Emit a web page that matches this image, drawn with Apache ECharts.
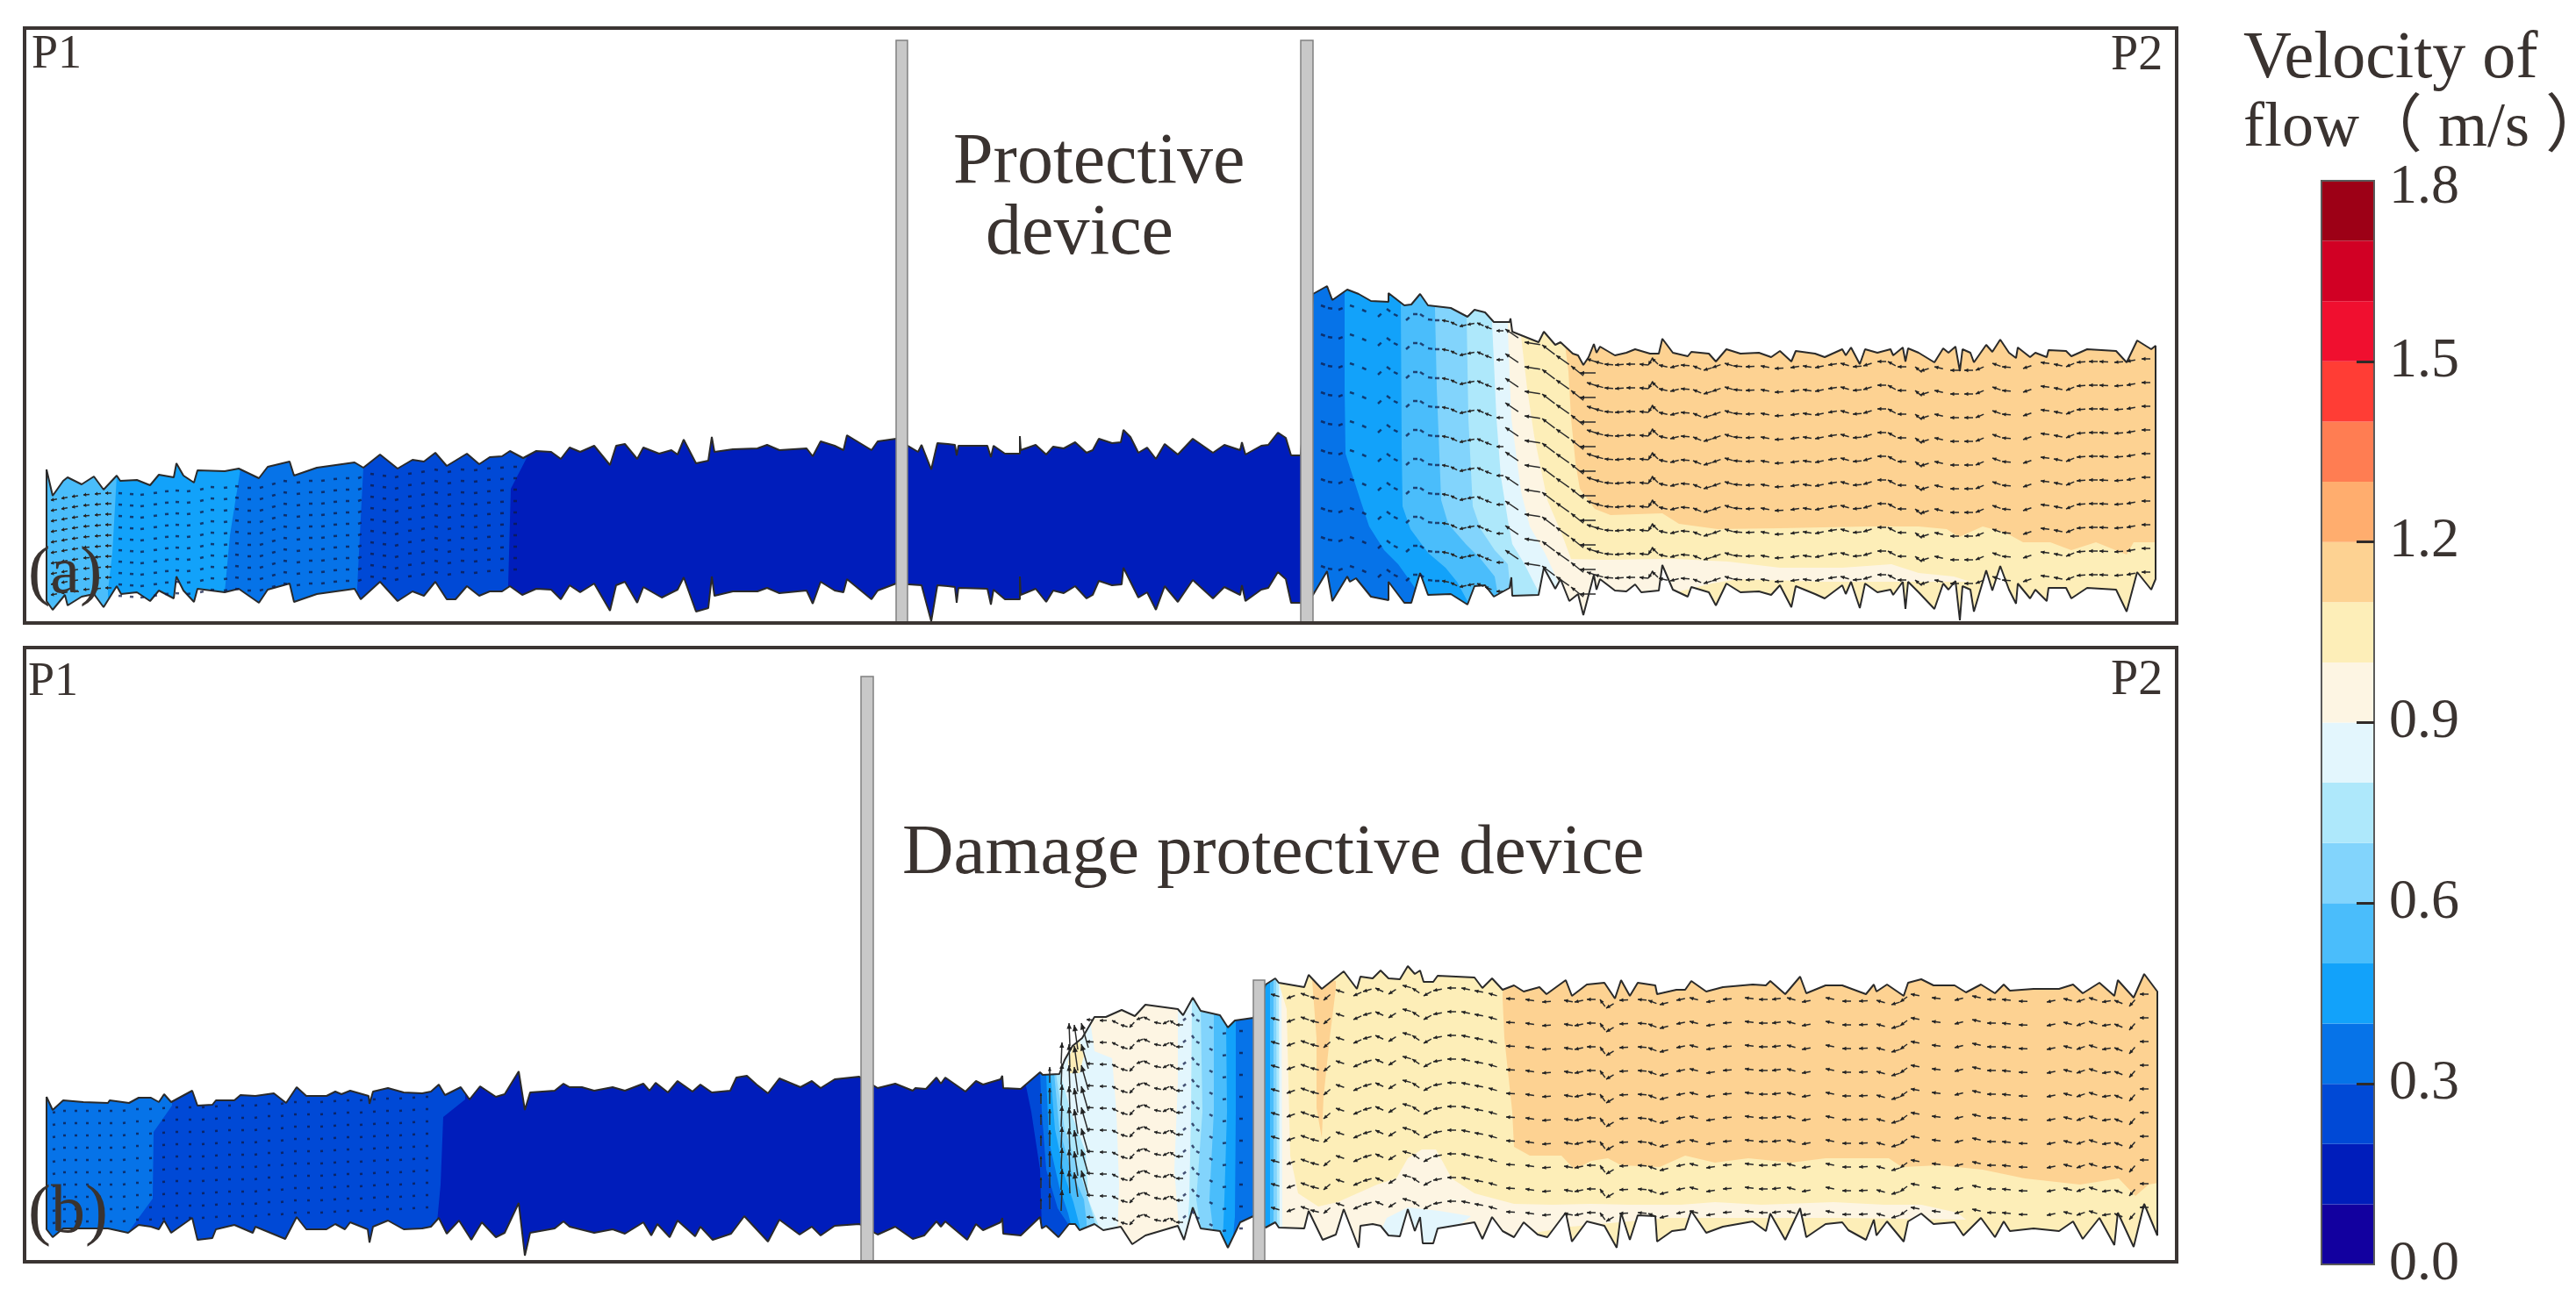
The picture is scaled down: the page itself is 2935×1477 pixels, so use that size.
<!DOCTYPE html>
<html>
<head>
<meta charset="utf-8">
<title>Velocity of flow</title>
<script src="https://cdn.jsdelivr.net/npm/echarts@6/dist/echarts.min.js"></script>
<style>
    html, body { margin: 0; padding: 0; background: #fff; }
    #chart { width: 2935px; height: 1477px; }
</style>
</head>
<body>
<div id="chart"></div>
<script>
// colour scale, one colour per 0.1 m/s, from 0.0 upwards
const levelColors = ['#12009f', '#001dbb', '#0049d6', '#0673e8', '#12a2fa', '#4abdfb', '#82d4fc', '#aee8fb', '#e3f6fd',
    '#fdf5e3', '#fdeeb8', '#fdd292', '#ffad6e', '#ff7d52', '#ff3d35', '#f00f2f', '#d10024', '#9d0016'];
const levelStep = 0.1;
const scaleTicks = [0.3, 0.6, 0.9, 1.2, 1.5];
const scaleLabels = [0, 0.3, 0.6, 0.9, 1.2, 1.5];

// water surface and bed of panel (a), [distance, height above panel floor]
const topA = [[53,175],[60,145],[72,162],[77,166],[93,158],[107,167],[118,152],[133,168],[137,162],[156,163],[171,157],[181,169],[198,166],[201,182],[209,168],[221,160],[225,174],[256,173],[272,176],[295,165],[305,178],[330,184],[335,168],[361,177],[404,183],[414,177],[433,192],[453,176],[470,186],[483,184],[496,194],[509,179],[532,193],[546,181],[558,189],[572,190],[581,196],[596,188],[611,196],[628,195],[639,187],[649,200],[661,195],[677,202],[695,180],[702,202],[712,204],[726,187],[733,200],[751,193],[765,197],[772,192],[779,209],[793,182],[807,185],[811,212],[814,195],[835,198],[863,199],[874,203],[888,197],[919,199],[926,190],[935,207],[951,202],[961,197],[965,214],[993,197],[1000,207],[1021,210],[1046,195],[1050,203],[1061,175],[1068,205],[1080,204],[1088,203],[1090,191],[1092,202],[1125,202],[1129,189],[1132,202],[1145,193],[1162,193],[1162,213],[1163,197],[1180,203],[1192,192],[1200,201],[1212,199],[1225,206],[1238,194],[1245,197],[1252,210],[1267,205],[1277,206],[1280,220],[1288,212],[1297,194],[1307,200],[1317,187],[1327,204],[1342,192],[1359,210],[1382,194],[1395,203],[1413,197],[1415,206],[1419,192],[1437,202],[1445,203],[1456,217],[1465,211],[1471,191],[1482,191],
    [1496,375],[1512,384],[1518,368],[1535,380],[1548,375],[1562,367],[1582,366],[1582,376],[1600,362],[1608,363],[1618,375],[1627,362],[1653,359],[1672,349],[1680,357],[1692,354],[1702,343],[1720,343],[1721,347],[1723,332],[1753,320],[1759,332],[1772,317],[1778,320],[1792,307],[1798,305],[1804,294],[1810,303],[1816,318],[1819,308],[1823,315],[1840,305],[1853,308],[1863,312],[1880,307],[1890,307],[1894,324],[1906,308],[1923,304],[1927,309],[1947,307],[1955,298],[1967,312],[1983,307],[2004,308],[2018,303],[2028,310],[2041,298],[2046,310],[2068,307],[2079,303],[2099,312],[2103,305],[2109,314],[2119,295],[2125,312],[2139,308],[2154,312],[2157,305],[2168,314],[2171,298],[2174,313],[2186,308],[2204,297],[2214,313],[2220,308],[2228,315],[2233,287],[2236,312],[2245,308],[2249,297],[2263,317],[2270,309],[2279,323],[2289,308],[2297,302],[2299,314],[2313,303],[2319,308],[2332,303],[2334,311],[2354,310],[2360,304],[2378,312],[2411,310],[2423,297],[2435,322],[2451,312],[2456,316]];
const botA = [[53,25],[60,15],[74,32],[77,20],[93,30],[107,33],[118,18],[133,42],[138,33],[156,35],[171,25],[181,37],[198,28],[201,53],[209,37],[221,24],[225,39],[256,35],[272,39],[295,23],[305,38],[330,45],[335,24],[361,33],[404,39],[411,27],[433,47],[453,25],[470,36],[483,31],[496,47],[509,27],[519,27],[532,42],[546,31],[558,36],[572,36],[581,42],[595,32],[611,39],[628,38],[639,27],[649,43],[661,35],[677,45],[695,14],[702,43],[712,47],[726,23],[733,41],[754,29],[772,38],[779,52],[793,13],[807,17],[811,53],[814,31],[835,36],[863,36],[874,40],[888,34],[919,37],[926,22],[935,47],[951,37],[961,35],[965,50],[993,27],[1000,37],[1021,45],[1050,43],[1061,2],[1068,43],[1080,42],[1088,41],[1090,23],[1092,40],[1125,39],[1129,21],[1132,38],[1145,27],[1162,27],[1162,53],[1163,32],[1180,39],[1192,24],[1200,37],[1212,34],[1225,42],[1238,28],[1245,32],[1252,48],[1267,43],[1278,44],[1280,63],[1297,29],[1307,35],[1317,15],[1327,42],[1342,24],[1359,49],[1382,28],[1395,41],[1413,32],[1415,43],[1419,25],[1437,38],[1445,40],[1456,58],[1465,50],[1471,23],[1482,23],
    [1496,32],[1512,59],[1518,25],[1535,53],[1538,47],[1545,51],[1562,30],[1582,26],[1582,47],[1600,23],[1608,23],[1618,57],[1627,32],[1653,33],[1672,21],[1680,42],[1692,43],[1702,30],[1720,40],[1722,52],[1723,31],[1753,32],[1759,63],[1772,39],[1778,50],[1788,25],[1798,33],[1804,9],[1816,55],[1819,38],[1823,50],[1840,37],[1853,36],[1863,44],[1870,35],[1890,37],[1894,66],[1906,38],[1923,30],[1927,41],[1947,35],[1955,20],[1967,45],[1983,35],[2004,36],[2018,32],[2028,43],[2041,18],[2046,42],[2068,33],[2079,28],[2099,43],[2103,33],[2109,47],[2119,17],[2125,45],[2139,35],[2154,38],[2157,32],[2168,47],[2171,16],[2174,47],[2186,35],[2204,16],[2214,45],[2220,38],[2228,48],[2233,3],[2236,42],[2245,38],[2249,13],[2263,60],[2270,37],[2279,65],[2289,38],[2297,22],[2299,45],[2313,28],[2319,38],[2332,25],[2334,40],[2354,40],[2360,28],[2378,40],[2411,38],[2423,13],[2435,58],[2451,38],[2456,50]];

// same for panel (b)
const topB = [[53,188],[60,173],[72,184],[95,182],[123,181],[125,184],[147,181],[158,187],[172,187],[181,182],[187,191],[195,182],[219,195],[225,178],[242,179],[246,184],[267,184],[274,190],[291,189],[312,192],[326,181],[338,199],[349,189],[372,189],[382,194],[389,191],[399,195],[420,189],[421,180],[425,194],[442,198],[460,193],[481,192],[491,194],[500,202],[507,190],[525,199],[535,185],[547,200],[565,188],[575,191],[591,217],[598,173],[604,193],[632,195],[642,203],[649,199],[663,199],[677,195],[698,199],[712,195],[733,203],[740,195],[747,204],[761,193],[772,206],[789,194],[798,202],[811,193],[832,195],[839,210],[851,212],[862,202],[875,192],[888,209],[912,199],[925,206],[935,198],[951,208],[979,211],[1000,198],[1020,203],[1040,195],[1043,198],[1055,197],[1067,210],[1072,203],[1077,210],[1100,194],[1112,206],[1120,202],[1140,208],[1142,212],[1143,198],[1163,197],[1185,216],[1188,213],[1207,214],[1213,230],[1222,246],[1233,255],[1247,279],[1260,279],[1278,287],[1293,280],[1305,293],[1342,288],[1348,281],[1359,301],[1368,286],[1390,281],[1399,267],[1407,275],[1428,278],
    [1442,316],[1453,323],[1457,318],[1486,313],[1491,327],[1506,311],[1531,331],[1546,311],[1550,325],[1564,323],[1573,332],[1582,323],[1595,322],[1604,337],[1612,328],[1618,332],[1622,319],[1633,319],[1638,326],[1680,324],[1689,312],[1700,323],[1712,310],[1725,315],[1736,308],[1754,313],[1762,305],[1784,321],[1791,303],[1808,316],[1828,318],[1840,300],[1847,321],[1857,303],[1866,318],[1886,315],[1888,305],[1910,310],[1920,310],[1927,320],[1944,308],[1963,313],[1997,316],[2012,315],[2017,320],[2034,305],[2051,325],[2058,306],[2080,315],[2099,315],[2126,305],[2135,316],[2138,308],[2150,316],[2169,303],[2174,318],[2189,322],[2203,315],[2227,315],[2240,307],[2257,316],[2273,306],[2283,316],[2290,309],[2317,311],[2346,311],[2362,316],[2373,306],[2392,318],[2409,303],[2413,321],[2431,301],[2443,328],[2458,308]];
const botB = [[53,37],[60,28],[72,38],[123,38],[146,33],[158,42],[172,40],[181,37],[187,47],[195,33],[219,50],[225,25],[242,27],[246,37],[267,42],[288,33],[291,40],[325,26],[338,51],[349,37],[372,37],[382,43],[393,37],[399,45],[419,37],[421,22],[425,40],[442,47],[460,37],[481,38],[491,40],[500,50],[509,32],[523,47],[537,25],[549,45],[565,28],[575,33],[591,67],[598,7],[604,33],[632,38],[642,46],[649,40],[677,33],[698,37],[712,32],[733,45],[742,30],[749,43],[763,28],[772,47],[792,29],[798,40],[812,25],[833,32],[848,52],[875,23],[888,48],[911,31],[925,40],[935,30],[951,41],[979,43],[1000,31],[1020,40],[1040,26],[1053,30],[1067,46],[1072,40],[1077,46],[1102,25],[1112,43],[1120,36],[1140,45],[1142,50],[1143,32],[1163,30],[1185,51],[1187,38],[1192,41],[1206,28],[1218,43],[1225,43],[1230,36],[1247,43],[1257,36],[1277,40],[1290,20],[1305,30],[1342,41],[1349,25],[1359,62],[1368,38],[1390,35],[1399,16],[1413,45],[1428,52],
    [1442,39],[1453,45],[1457,39],[1486,38],[1491,58],[1507,25],[1522,31],[1531,60],[1548,16],[1550,41],[1564,43],[1573,41],[1582,30],[1595,29],[1604,60],[1612,35],[1618,51],[1621,21],[1633,21],[1638,38],[1680,45],[1689,26],[1700,51],[1712,35],[1725,28],[1736,45],[1752,31],[1763,28],[1784,56],[1791,23],[1808,46],[1828,41],[1842,16],[1847,56],[1857,25],[1866,53],[1886,52],[1888,23],[1905,35],[1920,37],[1927,58],[1944,33],[1963,40],[1997,46],[2012,35],[2017,55],[2034,25],[2051,61],[2058,28],[2080,43],[2099,45],[2106,36],[2126,25],[2135,48],[2138,30],[2150,46],[2169,23],[2174,46],[2189,55],[2203,43],[2227,45],[2237,30],[2257,50],[2273,28],[2283,46],[2290,35],[2317,38],[2346,35],[2362,46],[2373,26],[2392,50],[2409,19],[2413,56],[2431,17],[2443,66],[2458,30]];

// contour bands, painted in order. each edge runs from surface to bed, band fills to the section end
const levelsA1 = [5, 4, 3, 2, 1];
const edgesA1 = [[[53,200],[53,20]], [[133,168],[128,80],[123,37]], [[274,176],[262,100],[256,35]], [[414,177],[410,100],[407,40]], [[600,188],[582,153],[579,43]]];
const levelsA2 = [3, 4, 5, 6, 7, 8, 9, 10];
const edgesA2 = [[[1489,400],[1489,20]],
    [[1532,378],[1532,267],[1533,193],[1550,140],[1560,110],[1577,83],[1593,67],[1603,53],[1617,33]],
    [[1596,367],[1597,200],[1598,133],[1607,107],[1627,80],[1647,63],[1660,47],[1673,23]],
    [[1635,357],[1637,267],[1642,140],[1650,113],[1670,90],[1687,73],[1703,53],[1707,30]],
    [[1671,350],[1673,233],[1678,133],[1687,107],[1703,83],[1718,67],[1720,47],[1722,30]],
    [[1700,343],[1705,233],[1710,167],[1718,117],[1723,90],[1737,67],[1747,47],[1755,32]],
    [[1718,333],[1722,233],[1733,150],[1743,110],[1760,80],[1768,63],[1778,40]],
    [[1733,327],[1740,267],[1748,213],[1763,140],[1780,100],[1790,73],[1790,0]]];
const extraLevelsA = [11, 9];
const extraPolysA = [
    [[1780,340],[1787,287],[1790,233],[1795,183],[1800,153],[1817,130],[1835,123],[1894,125],[1913,113],[1957,107],[2028,108],[2127,110],[2186,110],[2218,107],[2232,98],[2259,110],[2285,103],[2305,92],[2336,92],[2360,83],[2388,92],[2423,78],[2431,92],[2460,92],[2460,340]],
    [[1785,73],[1830,72],[1890,73],[1910,73],[1969,70],[2028,63],[2099,63],[2155,67],[2186,57],[2226,53],[2245,47],[2186,47],[2079,47],[1981,50],[1950,45],[1890,30],[1860,0],[1785,0]]];

const levelsB1 = [3, 2, 1, 2, 3, 4, 5, 6, 7, 8, 9, 8, 7, 6, 5, 4, 3];
const edgesB1 = [[[53,200],[53,20]], [[196,178],[175,148],[174,72],[147,35]], [[530,185],[505,165],[502,88],[498,45]],
    [[1168,205],[1175,171],[1185,105],[1187,38]],
    [[1185,216],[1187,171],[1192,105],[1205,61],[1217,43]],
    [[1192,213],[1195,138],[1207,85],[1217,55],[1220,43]],
    [[1197,213],[1202,151],[1213,98],[1223,68],[1230,41]],
    [[1201,215],[1207,151],[1220,105],[1235,71],[1238,45]],
    [[1203,215],[1213,151],[1227,111],[1237,81],[1248,43]],
    [[1208,215],[1220,171],[1237,125],[1240,71],[1253,38]],
    [[1240,290],[1247,240],[1267,232],[1272,171],[1275,88],[1273,25]],
    [[1342,288],[1342,205],[1338,105],[1343,41]],
    [[1358,295],[1357,171],[1355,71],[1353,38]],
    [[1368,288],[1370,171],[1363,71],[1368,38]],
    [[1383,281],[1383,171],[1378,71],[1382,38]],
    [[1397,271],[1398,171],[1395,71],[1393,20]],
    [[1408,275],[1408,171],[1407,51],[1405,30]]];
const levelsB2 = [4, 5, 6, 7, 8, 9, 10];
const edgesB2 = [[[1435,330],[1435,30]], [[1447,330],[1447,30]], [[1451,330],[1451,30]], [[1454,330],[1455,30]], [[1457,330],[1458,30]], [[1460,330],[1461,30]],
    [[1457,318],[1466,288],[1470,121],[1479,78],[1495,45],[1500,0]]];
const extraLevelsB = [10, 11, 9, 8, 11];
const extraPolysB = [
    [[1217,228],[1222,245],[1230,251],[1235,235],[1230,215],[1218,215]],
    [[1495,321],[1522,320],[1522,311],[1515,255],[1508,188],[1506,141],[1500,175],[1500,255]],
    [[1479,78],[1502,63],[1524,68],[1569,88],[1591,95],[1604,118],[1620,128],[1636,128],[1640,121],[1654,95],[1680,78],[1725,66],[1769,65],[1813,66],[1857,65],[1915,65],[1954,68],[2007,65],[2089,68],[2147,65],[2189,65],[2230,56],[2240,48],[2100,50],[1900,50],[1790,40],[1700,25],[1660,0],[1480,0]],
    [[1604,62],[1640,58],[1676,52],[1660,40],[1635,25],[1600,10],[1570,28],[1580,50]],
    [[1712,340],[1712,300],[1714,255],[1723,171],[1725,131],[1743,121],[1779,121],[1794,105],[1813,115],[1832,118],[1847,110],[1891,108],[1920,121],[1954,113],[1992,118],[2041,113],[2080,118],[2152,118],[2167,108],[2210,110],[2259,105],[2307,95],[2370,88],[2414,95],[2433,75],[2448,88],[2460,90],[2460,340]]];

// velocity vectors: first row of each column, the other rows repeat it one step lower
const vectorRows = 10;
const nodesA0 = [[58,140],[70,142],[82,144],[95,146],[108,147],[120,148]];
const nodesA1 = [[135,148],[148,147],[160,146],[175,148],[188,150],[200,151],[213,150],[228,152],[240,155],[255,154],[268,156],[282,154],[296,154],[310,158],[323,162],[338,160],[352,162],[366,162],[380,164],[394,165],[408,165],[422,170],[436,168],[450,166],[465,170],[480,172],[495,175],[510,172],[525,175],[540,174],[555,176],[570,177],[585,178]];
const nodesA2 = [[1505,362],[1513,359],[1525,357],[1538,362],[1552,357],[1570,349],[1580,358],[1588,352],[1602,345],[1610,352],[1618,352],[1627,346],[1635,345]];
const nodesA3 = [[1643,345],[1653,343],[1663,338],[1672,340],[1683,342],[1692,338],[1705,333]];
const nodesA4 = [[1715,335],[1737,320],[1757,317],[1773,305],[1790,293],[1800,285]];
const nodesA5 = [[1808,301],[1817,298],[1828,295],[1840,294],[1853,295],[1868,295],[1878,294],[1882,302],[1890,294],[1903,291],[1915,294],[1929,293],[1941,288],[1951,291],[1965,296],[1975,293],[1989,292],[2006,293],[2022,290],[2040,291],[2054,293],[2068,291],[2083,294],[2097,296],[2111,292],[2123,293],[2139,298],[2151,298],[2162,292],[2182,292],[2188,287],[2204,292],[2222,288],[2238,288],[2251,288],[2270,296],[2281,292],[2305,290],[2325,297],[2340,295],[2354,292],[2366,297],[2380,298],[2392,298],[2409,297],[2423,298],[2440,301]];
const nodeSetsA = [nodesA0, nodesA1, nodesA2, nodesA3, nodesA4, nodesA5];
const rowStepsA = [12, 13, 33, 33, 28, 27];
const vectorLensA = [7, 4, 5, 8, 18, 10];

const nodesB1 = [[60,170],[72,172],[85,172],[98,172],[112,172],[125,172],[140,172],[155,174],[170,174],[185,175],[200,176],[215,176],[230,176],[245,177],[260,178],[275,178],[290,178],[305,180],[320,180],[335,182],[350,182],[365,182],[380,183],[395,184],[410,184],[425,185],[440,186],[455,186],[470,187],[485,188]];
const nodesB2 = [[1238,276],[1253,275],[1267,275],[1277,270],[1287,267],[1295,276],[1303,279],[1315,273],[1325,271],[1333,275],[1340,270]];
const nodesB3 = [[1348,275],[1358,283],[1363,276],[1378,268],[1393,260],[1412,263]];
const nodesB4 = [[1448,305],[1466,300],[1482,306],[1493,302],[1508,298],[1522,310],[1542,303],[1553,308],[1567,312],[1582,305],[1598,315],[1609,312],[1622,303],[1633,309],[1649,312],[1665,312],[1680,309],[1696,306],[1716,300],[1738,299],[1757,296],[1782,298],[1794,296],[1808,299],[1823,299],[1830,289],[1845,298],[1866,299],[1878,298],[1891,293],[1910,298],[1925,301],[1944,296],[1963,299],[1988,301],[2004,299],[2019,299],[2036,301],[2053,296],[2080,301],[2099,297],[2118,297],[2138,298],[2155,293],[2165,296],[2177,305],[2201,301],[2227,298],[2247,303],[2264,299],[2281,299],[2300,297],[2332,296],[2351,300],[2366,296],[2380,301],[2395,296],[2409,298],[2426,291],[2438,305]];
const nodeSetsB = [nodesB1, nodesB2, nodesB3, nodesB4];
const rowStepsB = [14, 25, 25, 27];
const vectorLensB = [3, 8, 4, 10];

// the rising flow of panel (b): [x, head height, tail dx, tail dy]
const riseVectorsB = [[1186,192,0,-12],[1196,222,0,-18],[1210,250,-1,-24],[1218,272,1,-26],[1224,270,4,-28],[1232,272,8,-28]];
const riseRowsB = 8;
const riseStepB = 24;
const riseFloorB = 62;

// the gates, [left, right, height]
const gatesA = [[1021,1034,664],[1482,1496,664]];
const gatesB = [[981,995,667],[1428,1441,321]];

function bands(levels, edges, xEnd) {
    return levels.map(function (level, i) {
        let edge = edges[i];
        let pts = [[edge[0][0], 720]].concat(edge, [[edge[edge.length - 1][0], -20], [xEnd, -20], [xEnd, 720]]);
        return { level: level, pts: pts };
    });
}

function closed(levels, polys) {
    return levels.map(function (level, i) { return { level: level, pts: polys[i] }; });
}

function vectors(sets, steps, lens) {
    let out = [];
    sets.forEach(function (nodes, s) {
        nodes.forEach(function (node, i) {
            let next = nodes[i + 1];
            let slope = next ? (next[1] - node[1]) / (next[0] - node[0]) : 0;
            slope = Math.max(-1.6, Math.min(1.6, slope));
            let dx = lens[s] / Math.sqrt(1 + slope * slope);
            for (let r = 0; r < vectorRows; r++) {
                out.push([node[0], node[1] - r * steps[s], dx, slope * dx, lens[s]]);
            }
        });
    });
    return out;
}

function riseVectors() {
    let out = [];
    riseVectorsB.forEach(function (v) {
        for (let r = 0; r < riseRowsB; r++) {
            let h = v[1] - r * riseStepB;
            if (h >= riseFloorB) out.push([v[0], h, v[2], v[3], 20]);
        }
    });
    return out;
}

const bandListA = bands(levelsA1, edgesA1, 1489).concat(bands(levelsA2, edgesA2, 2460), closed(extraLevelsA, extraPolysA));
const bandListB = bands(levelsB1, edgesB1, 1435).concat(bands(levelsB2, edgesB2, 2460), closed(extraLevelsB, extraPolysB));
const outlineA = topA.concat(botA.slice().reverse(), [topA[0]]);
const outlineB = topB.concat(botB.slice().reverse(), [topB[0]]);

function bandSeries(list, outline, idx) {
    return {
        type: 'custom', xAxisIndex: idx, yAxisIndex: idx, z: 2, silent: true, clip: false,
        data: list.map(function (b, i) { return [i]; }),
        encode: { tooltip: 0 },
        renderItem: function (params, api) {
            let b = list[params.dataIndex];
            return {
                type: 'polygon',
                shape: { points: b.pts.map(function (p) { return api.coord(p); }) },
                style: { fill: levelColors[b.level], stroke: null },
                clipPath: { type: 'polygon', shape: { points: outline.map(function (p) { return api.coord(p); }) } }
            };
        }
    };
}

function vectorSeries(list, idx) {
    return {
        type: 'custom', xAxisIndex: idx, yAxisIndex: idx, z: 4, silent: true, progressive: 0,
        data: list,
        encode: { x: 0, y: 1 },
        renderItem: function (params, api) {
            let x = api.value(0), h = api.value(1), dx = api.value(2), dy = api.value(3), len = api.value(4);
            let head = api.coord([x, h]);
            let tail = api.coord([x + dx, h + dy]);
            let kids = [{
                type: 'line',
                shape: { x1: head[0], y1: head[1], x2: tail[0], y2: tail[1] },
                style: { stroke: len < 6 ? 'rgba(15,25,70,0.75)' : '#2b2b2b', lineWidth: len < 6 ? 2.5 : 1.5, lineCap: 'butt' }
            }];
            if (len >= 6) {
                let ux = (tail[0] - head[0]) / len, uy = (tail[1] - head[1]) / len;
                let a = Math.min(5, len * 0.45), w = 2.2;
                kids.push({
                    type: 'polygon',
                    shape: { points: [head, [head[0] + ux * a - uy * w, head[1] + uy * a + ux * w], [head[0] + ux * a + uy * w, head[1] + uy * a - ux * w]] },
                    style: { fill: '#222', stroke: null }
                });
            }
            return { type: 'group', children: kids };
        }
    };
}

function outlineSeries(outline, idx) {
    return {
        type: 'line', xAxisIndex: idx, yAxisIndex: idx, z: 3, silent: true, data: outline,
        symbol: 'none', smooth: false, lineStyle: { color: '#2a2a2a', width: 2 }
    };
}

function gateSeries(gates, idx) {
    return {
        type: 'custom', xAxisIndex: idx, yAxisIndex: idx, z: 5, silent: true, data: gates,
        encode: { x: 0, y: 2 },
        renderItem: function (params, api) {
            let a = api.coord([api.value(0), api.value(2)]);
            let b = api.coord([api.value(1), 0]);
            return {
                type: 'rect',
                shape: { x: a[0], y: a[1], width: b[0] - a[0], height: b[1] - a[1] },
                style: { fill: '#c8c8c8', stroke: '#808080', lineWidth: 1.5 }
            };
        }
    };
}

const scaleSeries = levelColors.map(function (color) {
    return {
        type: 'bar', xAxisIndex: 2, yAxisIndex: 2, stack: 'scale', barWidth: '100%', silent: true, z: 2,
        data: [levelStep], itemStyle: { color: color }
    };
});

const serif = '"Liberation Serif", "Noto Sans CJK SC", serif';
const inkColor = '#3a3330';

function label(text, x, y, size) {
    return { type: 'text', z: 100, silent: true, style: { text: text, x: x, y: y, fill: inkColor, font: size + 'px ' + serif, textVerticalAlign: 'top' } };
}

const chart = echarts.init(document.getElementById('chart'), null, { renderer: 'canvas' });
chart.setOption({
    animation: false,
    backgroundColor: '#fff',
    grid: [
        { left: 28, top: 32, width: 2452, height: 678, show: true, backgroundColor: 'transparent', borderColor: '#3b3533', borderWidth: 4, z: 10 },
        { left: 28, top: 738, width: 2452, height: 700, show: true, backgroundColor: 'transparent', borderColor: '#3b3533', borderWidth: 4, z: 10 },
        { left: 2645, top: 206, width: 60, height: 1235, show: true, backgroundColor: 'transparent', borderColor: '#5a5a5a', borderWidth: 2, z: 10 }
    ],
    xAxis: [
        { type: 'value', gridIndex: 0, min: 28, max: 2480, show: false },
        { type: 'value', gridIndex: 1, min: 28, max: 2480, show: false },
        { type: 'category', gridIndex: 2, data: [''], show: false }
    ],
    yAxis: [
        { type: 'value', gridIndex: 0, min: 0, max: 678, show: false },
        { type: 'value', gridIndex: 1, min: 0, max: 700, show: false },
        {
            type: 'value', gridIndex: 2, position: 'right', min: 0, max: 1.8, interval: 0.3, z: 12,
            axisLine: { show: false },
            splitLine: { show: false },
            axisTick: { show: true, inside: true, length: 20, customValues: scaleTicks, lineStyle: { color: '#2f2a28', width: 3 } },
            axisLabel: {
                margin: 17, fontFamily: serif, fontSize: 64, color: inkColor, customValues: scaleLabels,
                verticalAlignMinLabel: 'middle',
                formatter: function (v) { return v.toFixed(1); }
            }
        }
    ],
    series: [
        bandSeries(bandListA, outlineA, 0),
        outlineSeries(outlineA, 0),
        vectorSeries(vectors(nodeSetsA, rowStepsA, vectorLensA), 0),
        gateSeries(gatesA, 0),
        bandSeries(bandListB, outlineB, 1),
        outlineSeries(outlineB, 1),
        vectorSeries(vectors(nodeSetsB, rowStepsB, vectorLensB).concat(riseVectors()), 1),
        gateSeries(gatesB, 1)
    ].concat(scaleSeries),
    graphic: [
        label('P1', 36, 36, 54),
        label('P2', 2405, 36, 56),
        label('P1', 32, 751, 54),
        label('P2', 2405, 748, 56),
        label('(a)', 32, 617, 76),
        label('(b)', 32, 1345, 78),
        label('Protective', 1086, 145, 82),
        label('device', 1123, 226, 82),
        label('Damage protective device', 1028, 933, 81),
        label('Velocity of', 2556, 30, 76),
        label('flow（ m/s ）', 2556, 111, 72),
        label('1.8', 2722, 182, 64)
    ]
});
</script>
</body>
</html>
